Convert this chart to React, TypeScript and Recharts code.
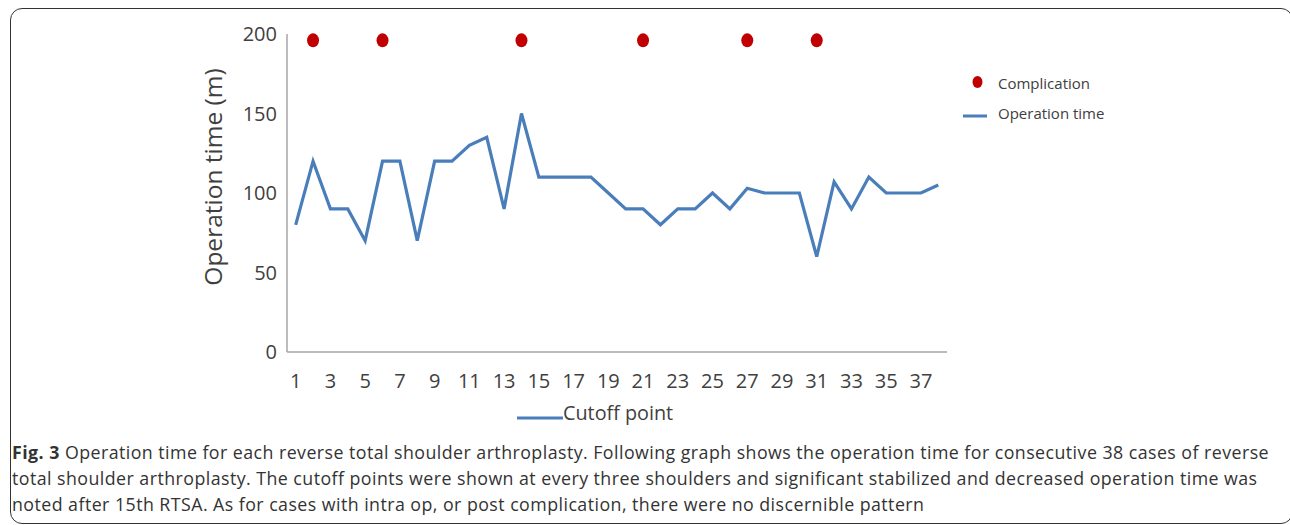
import { ComposedChart, Line, XAxis, YAxis } from "recharts";

const cases = [
  1, 2, 3, 4, 5, 6, 7, 8, 9, 10, 11, 12, 13, 14, 15, 16, 17, 18, 19,
  20, 21, 22, 23, 24, 25, 26, 27, 28, 29, 30, 31, 32, 33, 34, 35, 36, 37, 38,
];
const operationTime = [
  80, 120, 90, 90, 70, 120, 120, 70, 120, 120, 130, 135, 90, 150, 110, 110, 110, 110, 100,
  90, 90, 80, 90, 90, 100, 90, 103, 100, 100, 100, 60, 107, 90, 110, 100, 100, 100, 105,
];
const complicationCases = [2, 6, 14, 21, 27, 31];
const complicationLevel = 196;
const yTicks = [0, 50, 100, 150, 200];

const captionLines = [
  "Operation time for each reverse total shoulder arthroplasty. Following graph shows the operation time for consecutive 38 cases of reverse",
  "total shoulder arthroplasty. The cutoff points were shown at every three shoulders and significant stabilized and decreased operation time was",
  "noted after 15th RTSA. As for cases with intra op, or post complication, there were no discernible pattern",
];

const data = cases.map((c, i) => ({
  case: c,
  time: operationTime[i],
  complication: complicationCases.includes(c) ? complicationLevel : null,
}));

const FONT = "'Open Sans', 'Noto Sans', sans-serif";
const BLUE = "#4A7EBB";
const RED = "#C00000";
const GREY_TEXT = "#404040";

function ComplicationDot(props: any) {
  const { cx, cy, value, index } = props;
  if (value == null) return <g key={`c-${index}`} />;
  return <ellipse key={`c-${index}`} cx={cx} cy={cy} rx={6} ry={7} fill={RED} />;
}

function YLabel(props: any) {
  const { viewBox } = props;
  const x = 212;
  const y = viewBox.y + viewBox.height / 2 - 16;
  return (
    <text
      x={x}
      y={y}
      transform={`rotate(-90, ${x}, ${y})`}
      textAnchor="middle"
      dominantBaseline="central"
      fontSize={24.5}
      fontFamily={FONT}
      fill={GREY_TEXT}
    >
      Operation time (m)
    </text>
  );
}

export default function App() {
  return (
    <div
      style={{
        position: "absolute",
        left: 0,
        top: 0,
        width: 1290,
        height: 525,
        overflow: "hidden",
        background: "#fff",
        fontFamily: FONT,
      }}
    >
      <div
        style={{
          position: "absolute",
          left: 10,
          top: 8,
          width: 1283,
          height: 516,
          boxSizing: "border-box",
          border: "1.5px solid #333",
          borderRadius: 12,
        }}
      />

      <ComposedChart
        width={1290}
        height={525}
        data={data}
        margin={{ top: 34, right: 343, bottom: 133, left: 207 }}
        style={{ position: "absolute", left: 0, top: 0 }}
      >
        <XAxis
          dataKey="case"
          scale="band"
          interval={1}
          height={40}
          tickLine={false}
          tickSize={0}
          tickMargin={22}
          axisLine={{ stroke: "#A6A6A6", strokeWidth: 1.5 }}
          tick={{ fontSize: 20, fill: GREY_TEXT, fontFamily: FONT }}
        />
        <YAxis
          domain={[0, 200]}
          ticks={yTicks}
          width={80}
          tickLine={false}
          tickSize={0}
          tickMargin={10}
          axisLine={{ stroke: "#A6A6A6", strokeWidth: 1.5 }}
          tick={{ fontSize: 20, fill: GREY_TEXT, fontFamily: FONT }}
          label={<YLabel />}
        />
        <Line
          type="linear"
          dataKey="time"
          stroke={BLUE}
          strokeWidth={3.2}
          dot={false}
          activeDot={false}
          isAnimationActive={false}
        />
        <Line
          type="linear"
          dataKey="complication"
          stroke="none"
          dot={<ComplicationDot />}
          activeDot={false}
          isAnimationActive={false}
        />
      </ComposedChart>

      {/* legend, right side */}
      <div style={{ position: "absolute", left: 960, top: 70, fontSize: 15, color: GREY_TEXT }}>
        <div style={{ display: "flex", alignItems: "center", height: 26 }}>
          <svg width={38} height={16}>
            <ellipse cx={17.5} cy={7} rx={5} ry={6} fill={RED} />
          </svg>
          <span>Complication</span>
        </div>
        <div style={{ display: "flex", alignItems: "center", height: 34 }}>
          <svg width={38} height={16}>
            <line x1={3} y1={11} x2={27} y2={11} stroke={BLUE} strokeWidth={3} />
          </svg>
          <span>Operation time</span>
        </div>
      </div>

      {/* legend, bottom */}
      <div
        style={{
          position: "absolute",
          left: 517,
          top: 399,
          display: "flex",
          alignItems: "center",
          fontSize: 19.8,
          color: GREY_TEXT,
        }}
      >
        <svg width={46} height={20}>
          <line x1={0} y1={15} x2={46} y2={15} stroke={BLUE} strokeWidth={3} />
        </svg>
        <span>Cutoff point</span>
      </div>

      {/* caption */}
      <div
        style={{
          position: "absolute",
          left: 12,
          top: 439,
          fontSize: 17.8,
          letterSpacing: 0.45,
          lineHeight: "26px",
          color: "#333",
          whiteSpace: "nowrap",
        }}
      >
        <div>
          <b>Fig. 3</b> {captionLines[0]}
        </div>
        <div>{captionLines[1]}</div>
        <div>{captionLines[2]}</div>
      </div>
    </div>
  );
}
